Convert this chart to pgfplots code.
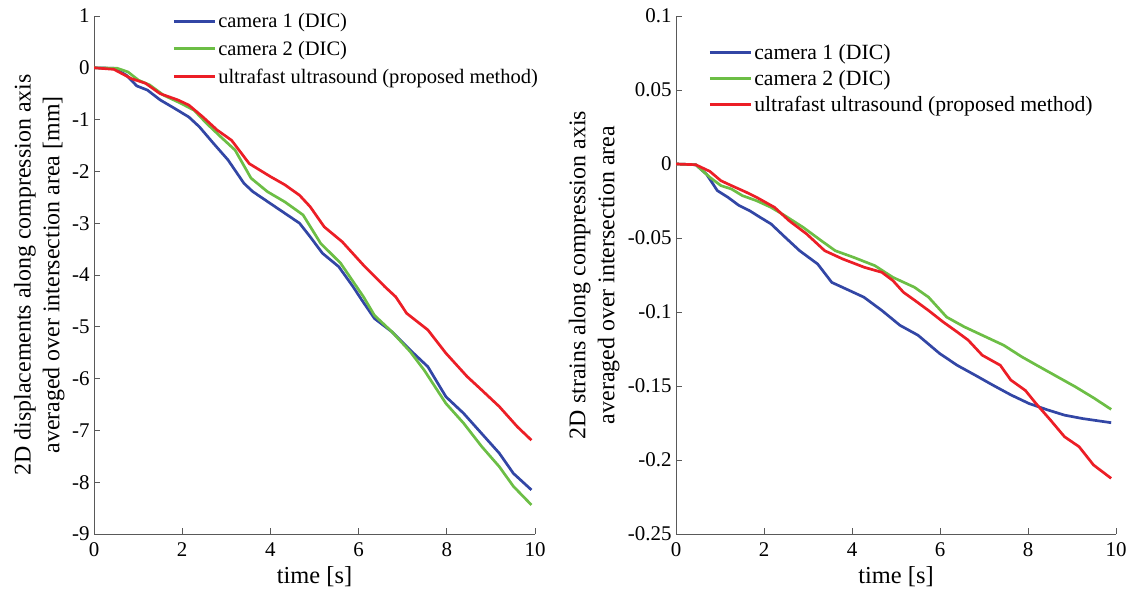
\documentclass[border=0pt]{standalone}
\usepackage{pgfplots}
\pgfplotsset{compat=1.18}
\usepackage{fontspec}
\setmainfont{Liberation Serif}
\definecolor{cblue}{RGB}{50,70,165}
\definecolor{cgreen}{RGB}{108,190,69}
\definecolor{cred}{RGB}{236,30,38}
\pgfplotsset{
  common/.style={
    scale only axis, width=441bp, height=518bp,
    anchor=south west,
    xmin=0, xmax=10, xtick={0,2,4,6,8,10},
    axis x line*=bottom, axis y line*=left,
    axis line style={draw=black!65, line width=0.7bp},
    tick style={draw=black!65, line width=0.7bp},
    tick align=inside, major tick length=6bp,
    tick label style={font=\fontsize{21}{23}\selectfont},
    xticklabel style={yshift=-5bp},
    yticklabel style={xshift=-1bp},
    /pgf/number format/assume math mode=true,
    xlabel={time [s]},
    xlabel style={font=\fontsize{24.5}{29}\selectfont, at={(axis description cs:0.5,-0.083)}, anchor=center},
    ylabel style={font=\fontsize{24}{29}\selectfont, align=center, anchor=center},
    legend style={draw=none, fill=none, inner sep=0pt},
    legend cell align=left,
    legend image code/.code={\draw[#1, line width=3bp] (0bp,0bp) -- (41bp,0bp);},
    every axis plot/.append style={line width=2.7bp, line join=round},
  }
}
\begin{document}
\begin{tikzpicture}
\useasboundingbox (0,0) rectangle (1132bp,594bp);
\begin{axis}[common, at={(94bp,60bp)},
  ymin=-9, ymax=1, ytick={-9,-8,-7,-6,-5,-4,-3,-2,-1,0,1},
  yticklabels={-9,-8,-7,-6,-5,-4,-3,-2,-1,0,1},
  ylabel={2D displacements along compression axis\\averaged over intersection area [mm]},
  ylabel style={at={(axis description cs:-0.124,0.5)}},
  legend style={at={(0.177,1.0097)}, anchor=north west, font=\fontsize{20.6}{24}\selectfont, row sep=8bp},
]
\addplot[cblue] coordinates {
(0,0) (0.45,-0.01) (0.73,-0.14) (0.97,-0.35) (1.21,-0.43) (1.5,-0.62) (1.82,-0.78) (2.15,-0.95) (2.39,-1.14) (2.71,-1.46) (3.04,-1.78) (3.4,-2.23) (3.6,-2.39) (4.0,-2.62) (4.33,-2.81) (4.66,-3.0) (4.9,-3.26) (5.18,-3.58) (5.55,-3.84) (5.87,-4.22) (6.07,-4.48) (6.36,-4.84) (6.76,-5.1) (7.17,-5.45) (7.57,-5.77) (7.98,-6.35) (8.38,-6.67) (8.79,-7.06) (9.19,-7.44) (9.51,-7.83) (9.92,-8.15)
};
\addlegendentry{camera 1 (DIC)}
\addplot[cgreen] coordinates {
(0,0) (0.53,-0.01) (0.77,-0.08) (1.01,-0.24) (1.26,-0.33) (1.58,-0.53) (1.98,-0.69) (2.27,-0.82) (2.55,-1.07) (2.87,-1.33) (3.2,-1.59) (3.56,-2.13) (3.93,-2.39) (4.33,-2.59) (4.74,-2.84) (5.14,-3.39) (5.59,-3.77) (6.11,-4.42) (6.36,-4.78) (6.76,-5.1) (7.17,-5.48) (7.49,-5.84) (7.98,-6.48) (8.38,-6.86) (8.79,-7.31) (9.19,-7.7) (9.51,-8.08) (9.92,-8.44)
};
\addlegendentry{camera 2 (DIC)}
\addplot[cred] coordinates {
(0,0) (0.45,-0.03) (0.85,-0.21) (1.17,-0.3) (1.5,-0.5) (1.9,-0.62) (2.15,-0.72) (2.47,-0.95) (2.79,-1.2) (3.12,-1.4) (3.52,-1.85) (4.0,-2.1) (4.33,-2.26) (4.66,-2.46) (4.9,-2.68) (5.22,-3.07) (5.63,-3.36) (6.11,-3.81) (6.6,-4.23) (6.84,-4.42) (7.09,-4.74) (7.57,-5.06) (7.98,-5.51) (8.46,-5.96) (8.79,-6.22) (9.19,-6.54) (9.6,-6.93) (9.92,-7.19)
};
\addlegendentry{ultrafast ultrasound (proposed method)}
\end{axis}
\begin{axis}[common, at={(676bp,60bp)}, width=440bp,
  ymin=-0.25, ymax=0.1, ytick={-0.25,-0.2,-0.15,-0.1,-0.05,0,0.05,0.1},
  yticklabels={-0.25,-0.2,-0.15,-0.1,-0.05,0,0.05,0.1},
  ylabel={2D strains along compression axis\\averaged over intersection area},
  ylabel style={at={(axis description cs:-0.186,0.5)}},
  legend style={at={(0.073,0.950)}, anchor=north west, font=\fontsize{21.8}{25}\selectfont, row sep=5.5bp},
]
\addplot[cblue] coordinates {
(0,0) (0.45,-0.0005) (0.69,-0.0068) (0.94,-0.018) (1.18,-0.0225) (1.43,-0.028) (1.67,-0.0315) (1.91,-0.036) (2.16,-0.0405) (2.48,-0.0495) (2.81,-0.0586) (3.22,-0.0676) (3.54,-0.08) (3.95,-0.0856) (4.27,-0.09) (4.68,-0.099) (5.09,-0.109) (5.5,-0.1157) (5.99,-0.128) (6.39,-0.136) (6.8,-0.1427) (7.2,-0.1494) (7.61,-0.156) (8.02,-0.1618) (8.43,-0.166) (8.83,-0.1697) (9.24,-0.172) (9.89,-0.1748)
};
\addlegendentry{camera 1 (DIC)}
\addplot[cgreen] coordinates {
(0,0) (0.45,-0.0005) (0.77,-0.009) (1.02,-0.0146) (1.26,-0.0169) (1.51,-0.0214) (1.83,-0.0248) (2.16,-0.0293) (2.48,-0.035) (2.89,-0.0428) (3.3,-0.0518) (3.62,-0.0586) (4.03,-0.063) (4.52,-0.0687) (4.93,-0.0766) (5.42,-0.0833) (5.74,-0.09) (6.15,-0.1034) (6.55,-0.11) (6.96,-0.1157) (7.45,-0.1225) (7.86,-0.1303) (8.26,-0.137) (8.67,-0.1438) (9.08,-0.1506) (9.49,-0.158) (9.89,-0.1658)
};
\addlegendentry{camera 2 (DIC)}
\addplot[cred] coordinates {
(0,0) (0.45,-0.0005) (0.77,-0.005) (1.02,-0.0113) (1.26,-0.0146) (1.59,-0.019) (1.83,-0.0225) (2.24,-0.0293) (2.57,-0.0383) (2.97,-0.0473) (3.38,-0.0586) (3.79,-0.0642) (4.28,-0.0698) (4.68,-0.0732) (4.93,-0.0788) (5.17,-0.0867) (5.42,-0.092) (5.74,-0.099) (6.07,-0.1067) (6.39,-0.1135) (6.64,-0.119) (6.96,-0.1292) (7.37,-0.136) (7.61,-0.146) (7.94,-0.153) (8.18,-0.1618) (8.51,-0.173) (8.83,-0.1843) (9.16,-0.191) (9.49,-0.2034) (9.89,-0.2124)
};
\addlegendentry{ultrafast ultrasound (proposed method)}
\end{axis}
\end{tikzpicture}
\end{document}
